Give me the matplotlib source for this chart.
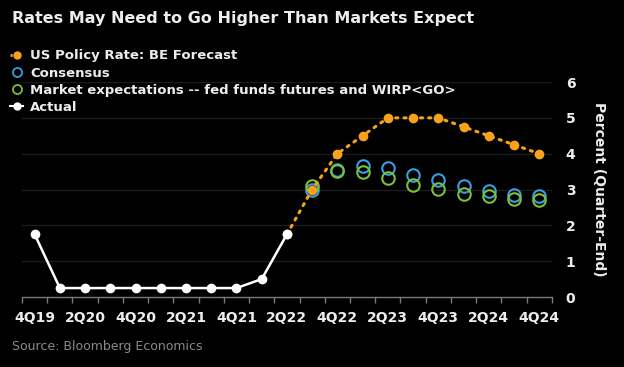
import matplotlib
matplotlib.use('Agg')
import matplotlib.pyplot as plt
from matplotlib.lines import Line2D

# Quarter labels 4Q19 .. 4Q24
quarters = ['4Q19', '1Q20', '2Q20', '3Q20', '4Q20', '1Q21', '2Q21', '3Q21', '4Q21',
            '1Q22', '2Q22', '3Q22', '4Q22', '1Q23', '2Q23', '3Q23', '4Q23',
            '1Q24', '2Q24', '3Q24', '4Q24']

actual = [1.75, 0.25, 0.25, 0.25, 0.25, 0.25, 0.25, 0.25, 0.25, 0.5, 1.75]
# BE forecast starts from the last actual print (2Q22)
forecast = [1.75, 3.0, 4.0, 4.5, 5.0, 5.0, 5.0, 4.75, 4.5, 4.25, 4.0]
consensus = [3.0, 3.55, 3.67, 3.61, 3.4, 3.26, 3.1, 2.96, 2.86, 2.81]
market = [3.09, 3.52, 3.49, 3.33, 3.14, 3.01, 2.88, 2.81, 2.74, 2.7]

orange = '#F7A21B'
blue = '#3A9FE0'
green = '#7DBF3B'
bg = 'black'
txt = '#EDEDED'

x = list(range(len(quarters)))
x_actual = x[:len(actual)]
x_fc = x[len(actual) - 1:]
x_cons = x[len(actual):]

fig = plt.figure(figsize=(6.24, 3.67), dpi=100, facecolor=bg)
ax = fig.add_axes([0.0353, 0.1907, 0.849, 0.5858], facecolor=bg)

# gridlines
for v in range(1, 7):
    ax.axhline(v, color='#1c1c1c', lw=1, zorder=0)

ax.plot(x_fc, forecast, color=orange, lw=2.2, linestyle=(0, (0.7, 2.0)), dash_capstyle='round',
        marker='o', markersize=7, markeredgewidth=0, zorder=3)
ax.plot(x_cons, consensus, linestyle='none', marker='o', markersize=9, markerfacecolor='none',
        markeredgecolor=blue, markeredgewidth=1.5, zorder=2)
ax.plot(x_cons, market, linestyle='none', marker='o', markersize=9, markerfacecolor='none',
        markeredgecolor=green, markeredgewidth=1.5, zorder=2)
ax.plot(x_actual, actual, color='white', lw=1.8, marker='o', markersize=7,
        markeredgewidth=0, zorder=4)

ax.set_xlim(-0.5, len(quarters) - 0.5)
ax.set_ylim(0, 6)

ax.set_xticks(x[::2])
ax.set_xticklabels(quarters[::2], fontsize=10, fontweight='bold', color=txt)
ax.set_xticks([i - 0.5 for i in range(len(quarters) + 1)], minor=True)
ax.tick_params(axis='x', which='major', length=0, pad=10)
ax.tick_params(axis='x', which='minor', length=4, color='#7a7a7a', width=1)

ax.yaxis.tick_right()
ax.set_yticks(range(0, 7))
ax.set_yticklabels([str(v) for v in range(0, 7)], fontsize=10, fontweight='bold', color=txt)
ax.tick_params(axis='y', length=0, pad=10)
ax.yaxis.set_label_position('right')
ax.set_ylabel('Percent (Quarter-End)', rotation=270, fontsize=10, fontweight='bold',
              color=txt, labelpad=22)

for s in ['top', 'left', 'right']:
    ax.spines[s].set_visible(False)
ax.spines['bottom'].set_color('#7a7a7a')
ax.spines['bottom'].set_linewidth(1)

handles = [
    Line2D([], [], color=orange, lw=2, linestyle=(0, (0.8, 1.6)), marker='o', markersize=6, markeredgewidth=0),
    Line2D([], [], linestyle='none', marker='o', markersize=6.5, markerfacecolor='none',
           markeredgecolor=blue, markeredgewidth=1.3),
    Line2D([], [], linestyle='none', marker='o', markersize=6.5, markerfacecolor='none',
           markeredgecolor=green, markeredgewidth=1.3),
    Line2D([], [], color='white', lw=1.5, marker='o', markersize=6, markeredgewidth=0),
]
labels = ['US Policy Rate: BE Forecast', 'Consensus',
          'Market expectations -- fed funds futures and WIRP<GO>', 'Actual']
leg = fig.legend(handles, labels, loc='upper left', bbox_to_anchor=(0.008, 0.88),
                 frameon=False, handlelength=1.0, handletextpad=0.5, labelspacing=0.32,
                 borderpad=0.2, borderaxespad=0.2,
                 prop={'weight': 'bold', 'size': 9.5})
for t in leg.get_texts():
    t.set_color(txt)

fig.text(0.019, 0.95, 'Rates May Need to Go Higher Than Markets Expect', fontsize=11.5,
         fontweight='bold', color=txt, va='center', ha='left')
fig.text(0.019, 0.055, 'Source: Bloomberg Economics', fontsize=9, color='#8a8a8a',
         va='center', ha='left')

fig.savefig('out.png', dpi=100, facecolor=bg)
